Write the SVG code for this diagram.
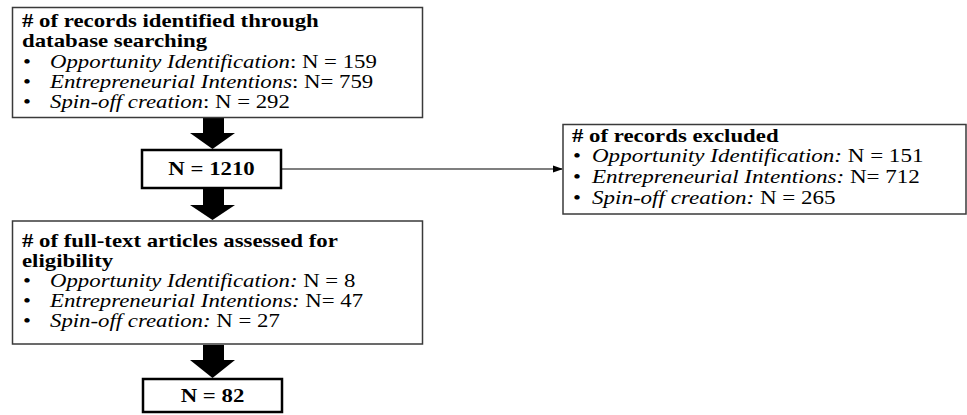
<svg xmlns="http://www.w3.org/2000/svg" width="967" height="415" viewBox="0 0 967 415">
  <style>
    .box { fill: #ffffff; stroke: #3a3a3a; stroke-width: 1.5; }
    .nbox { fill: #ffffff; stroke: #000000; stroke-width: 2.5; }
    text { font-family: "Liberation Serif", "Times New Roman", serif; font-size: 18px; fill: #000000; }
    .b { font-weight: bold; }
    .i { font-style: italic; }
    .flow { fill: #000000; stroke: none; }
    .link { stroke: #000000; stroke-width: 1.2; fill: none; }
  </style>
  <defs>
    <marker id="tip" markerWidth="10" markerHeight="8" refX="9" refY="4" orient="auto" markerUnits="userSpaceOnUse">
      <path d="M0,0.5 L10,4 L0,7.5 Z" fill="#000000"/>
    </marker>
  </defs>
  <rect width="967" height="415" fill="#ffffff"/>

  <g id="connectors">
    <polygon class="flow" points="203,118 224,118 224,133 235,133 212.5,149 190,133 203,133"/>
    <polygon class="flow" points="203,189 224,189 224,205 235,205 212.5,220 190,205 203,205"/>
    <polygon class="flow" points="203,345 224,345 224,360 235,360 212.5,378 190,360 203,360"/>
    <line class="link" x1="282" y1="169" x2="562" y2="169" marker-end="url(#tip)"/>
  </g>

  <g id="records-identified">
    <rect class="box" x="12.5" y="7.5" width="410" height="110"/>
    <text class="b" transform="translate(22 27) scale(1.267 1)"># of records identified through</text>
    <text class="b" transform="translate(22 47) scale(1.267 1)">database searching</text>
    <text transform="translate(23 68) scale(1.267 1)">•</text>
    <text transform="translate(23 88) scale(1.267 1)">•</text>
    <text transform="translate(23 108) scale(1.267 1)">•</text>
    <text transform="translate(50 68) scale(1.267 1)"><tspan class="i">Opportunity Identification</tspan>: N = 159</text>
    <text transform="translate(50 88) scale(1.267 1)"><tspan class="i">Entrepreneurial Intentions</tspan>: N= 759</text>
    <text transform="translate(50 108) scale(1.267 1)"><tspan class="i">Spin-off creation</tspan>: N = 292</text>
  </g>

  <g id="total-1210">
    <rect class="nbox" x="142" y="150" width="139" height="38"/>
    <text class="b" text-anchor="middle" transform="translate(211.5 175) scale(1.267 1)">N = 1210</text>
  </g>

  <g id="records-excluded">
    <rect class="box" x="563" y="124.5" width="403" height="89.5"/>
    <text class="b" transform="translate(572 142) scale(1.267 1)"># of records excluded</text>
    <text transform="translate(573 162) scale(1.267 1)">•</text>
    <text transform="translate(573 183) scale(1.267 1)">•</text>
    <text transform="translate(573 204) scale(1.267 1)">•</text>
    <text transform="translate(592 162) scale(1.28 1)"><tspan class="i">Opportunity Identification:</tspan> N = 151</text>
    <text transform="translate(592 183) scale(1.28 1)"><tspan class="i">Entrepreneurial Intentions:</tspan> N= 712</text>
    <text transform="translate(592 204) scale(1.28 1)"><tspan class="i">Spin-off creation:</tspan> N = 265</text>
  </g>

  <g id="full-text-assessed">
    <rect class="box" x="12.5" y="221" width="410" height="123"/>
    <text class="b" transform="translate(22 247) scale(1.267 1)"># of full-text articles assessed for</text>
    <text class="b" transform="translate(22 267) scale(1.267 1)">eligibility</text>
    <text transform="translate(23 287) scale(1.267 1)">•</text>
    <text transform="translate(23 307) scale(1.267 1)">•</text>
    <text transform="translate(23 327) scale(1.267 1)">•</text>
    <text transform="translate(50 287) scale(1.267 1)"><tspan class="i">Opportunity Identification:</tspan> N = 8</text>
    <text transform="translate(50 307) scale(1.267 1)"><tspan class="i">Entrepreneurial Intentions:</tspan> N= 47</text>
    <text transform="translate(50 327) scale(1.267 1)"><tspan class="i">Spin-off creation:</tspan> N = 27</text>
  </g>

  <g id="total-82">
    <rect class="nbox" x="143" y="379" width="139" height="33"/>
    <text class="b" text-anchor="middle" transform="translate(212.5 402) scale(1.267 1)">N = 82</text>
  </g>
</svg>
